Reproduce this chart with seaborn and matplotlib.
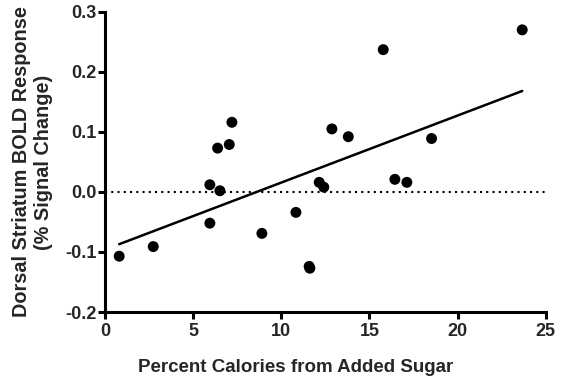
import matplotlib
matplotlib.use("Agg")
import matplotlib.pyplot as plt
import seaborn as sns
import numpy as np
import pandas as pd

sugar = [0.81, 2.74, 5.95, 5.95, 6.39, 6.52, 7.05, 7.2, 8.9, 10.83, 11.58, 11.62,
         12.15, 12.41, 12.87, 13.8, 15.78, 16.44, 17.12, 18.52, 23.66]
bold = [-0.107, -0.091, 0.012, -0.052, 0.073, 0.002, 0.079, 0.116, -0.069, -0.034,
        -0.124, -0.127, 0.016, 0.008, 0.105, 0.092, 0.237, 0.021, 0.016, 0.089, 0.270]
xticks = [0, 5, 10, 15, 20, 25]
yticks = [-0.2, -0.1, 0.0, 0.1, 0.2, 0.3]

df = pd.DataFrame({"sugar": sugar, "bold": bold})

sns.set_style("ticks")
plt.rcParams['font.family'] = ['Liberation Sans', 'DejaVu Sans']

fig = plt.figure(figsize=(5.61, 3.81), dpi=100)
ax = fig.add_axes([0.187, 0.181, 0.786, 0.788])

ax.axhline(0, color="black", linestyle=(0, (1, 2)), linewidth=1.5, zorder=1)
sns.regplot(data=df, x="sugar", y="bold", ci=None, ax=ax, truncate=True,
            scatter_kws=dict(s=62, color="black", edgecolor="none", alpha=1, zorder=3),
            line_kws=dict(color="black", linewidth=1.8, zorder=2))

ax.set_xlim(0, 25)
ax.set_ylim(-0.2, 0.3)
ax.set_xticks(xticks)
ax.set_yticks(yticks)
ax.set_xticklabels([str(t) for t in xticks], fontsize=13, fontweight="bold")
ax.set_yticklabels([f"{t:.1f}" for t in yticks], fontsize=13, fontweight="bold")
for s in ["top", "right"]:
    ax.spines[s].set_visible(False)
for s in ["left", "bottom"]:
    ax.spines[s].set_linewidth(2.2)
    ax.spines[s].set_color("black")
ax.tick_params(width=2.2, length=5, color="black")
ax.tick_params(axis="x", pad=3)
ax.tick_params(axis="y", pad=1)
ax.set_xlabel("Percent Calories from Added Sugar", fontsize=13.5, fontweight="bold", labelpad=15)
ax.xaxis.set_label_coords(0.433, -0.155)
ax.xaxis.label.set_verticalalignment("top")
ax.set_ylabel("Dorsal Striatum BOLD Response\n(% Signal Change)", fontsize=14.3,
              fontweight="bold", labelpad=9)

fig.savefig("out.png", dpi=100)
